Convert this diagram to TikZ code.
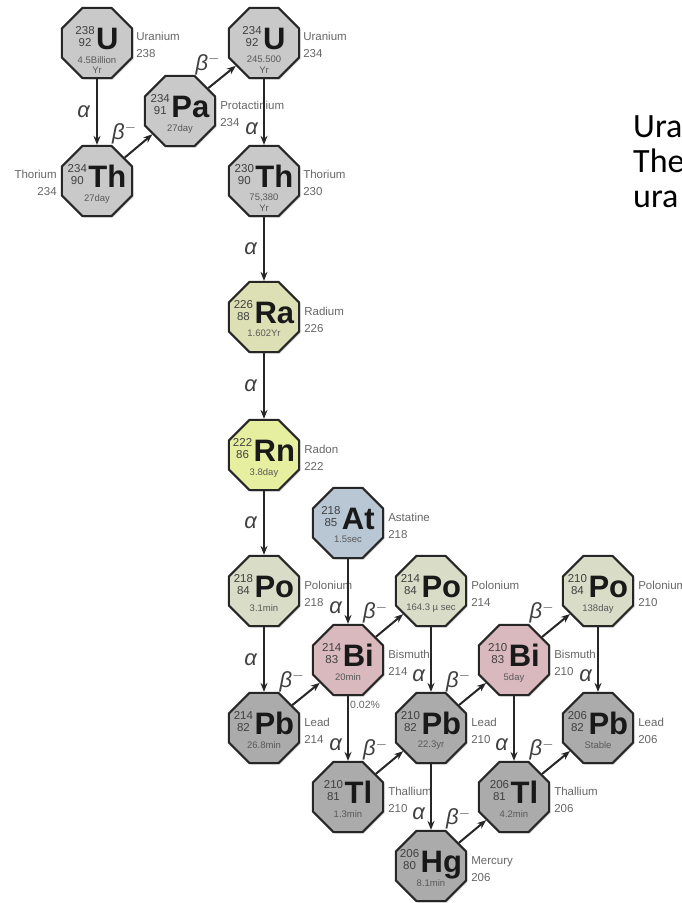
\documentclass[tikz,border=0pt]{standalone}
\usepackage{fontspec}
\setmainfont{Liberation Sans}
\newfontfamily\slidefont{Carlito}
\usetikzlibrary{arrows.meta,shapes.geometric,shadows}
\definecolor{nucgray}{HTML}{C9C9C9}
\definecolor{nucdark}{HTML}{ABABAB}
\definecolor{ragreen}{HTML}{DCE0B4}
\definecolor{rnyellow}{HTML}{E6EFA0}
\definecolor{atblue}{HTML}{B9C6D3}
\definecolor{popale}{HTML}{D9DCC6}
\definecolor{bipink}{HTML}{D9B9BE}

% octagon, mass/atomic number, symbol, half-life
\newcommand{\nuc}[6]{%
  \node[octa,fill=#2] (#1) at #3 {};
  \node[nucsym] (#1-s) at ([yshift=-6pt]#1.center)
    {\raisebox{8pt}{\fontsize{11.5}{11}\selectfont\mdseries\color{black!75}\begin{tabular}{@{}c@{}}#4\end{tabular}}\hspace{1.5pt}#5};
  \node[halflife] (#1-h) at ([yshift=-13pt]#1.center) {#6};
}

\begin{document}
\begin{tikzpicture}[x=1pt,y=-1pt,
  octa/.style={regular polygon,regular polygon sides=8,minimum size=76pt,inner sep=0pt,draw=black!85,line width=2pt,
    drop shadow={shadow xshift=1.5pt,shadow yshift=-1.5pt,opacity=0.3}},
  nucsym/.style={anchor=base,inner sep=0pt,font=\fontsize{31}{31}\selectfont\bfseries,text=black!90},
  halflife/.style={anchor=north,inner sep=0pt,align=center,font=\fontsize{9.5}{10.5}\selectfont,text=black!65},
  sidelbl/.style={anchor=west,align=left,inner sep=0pt,text=black!60,font=\fontsize{11.5}{17}\selectfont},
  decay/.style={-{Stealth[length=9pt,width=7pt]},line width=2pt,black!85},
  albl/.style={inner sep=2pt,text=black!75,font=\fontsize{22}{22}\selectfont\itshape},
  slide/.style={anchor=base west,inner sep=0pt,font=\slidefont\fontsize{34}{34}\selectfont}]
  \useasboundingbox (0,0) rectangle (682,903);

  % Nuclides
  \nuc{u238}{nucgray}{(97,43)}{238\\92}{U}{4.5Billion\\Yr}
  \nuc{th234}{nucgray}{(97,181)}{234\\90}{Th}{27day}
  \nuc{pa234}{nucgray}{(180,111)}{234\\91}{Pa}{27day}
  \nuc{u234}{nucgray}{(264,43)}{234\\92}{U}{245.500\\Yr}
  \nuc{th230}{nucgray}{(264,181)}{230\\90}{Th}{75,380\\Yr}
  \nuc{ra226}{ragreen}{(264,317)}{226\\88}{Ra}{1.602Yr}
  \nuc{rn222}{rnyellow}{(264,455)}{222\\86}{Rn}{3.8day}
  \nuc{at218}{atblue}{(348,523)}{218\\85}{At}{1.5sec}
  \nuc{po218}{popale}{(264,591)}{218\\84}{Po}{3.1min}
  \nuc{bi214}{bipink}{(348,660)}{214\\83}{Bi}{20min}
  \nuc{po214}{popale}{(431,591)}{214\\84}{Po}{164.3 µ sec}
  \nuc{pb214}{nucdark}{(264,728)}{214\\82}{Pb}{26.8min}
  \nuc{pb210}{nucdark}{(431,728)}{210\\82}{Pb}{22.3yr}
  \nuc{bi210}{bipink}{(514,660)}{210\\83}{Bi}{5day}
  \nuc{po210}{popale}{(598,591)}{210\\84}{Po}{138day}
  \nuc{pb206}{nucdark}{(598,728)}{206\\82}{Pb}{Stable}
  \nuc{tl210}{nucdark}{(348,797)}{210\\81}{Tl}{1.3min}
  \nuc{tl206}{nucdark}{(514,797)}{206\\81}{Tl}{4.2min}
  \nuc{hg206}{nucdark}{(431,866)}{206\\80}{Hg}{8.1min}

  % Names
  \node[sidelbl] (u238-l) at ([xshift=3pt,yshift=-1.5pt]u238.east) {Uranium\\238};
  \node[sidelbl,anchor=east,align=right] (th234-l) at ([xshift=-4pt,yshift=-1.5pt]th234.west) {Thorium\\234};
  \node[sidelbl] (pa234-l) at ([xshift=4pt,yshift=-3pt]pa234.east) {Protactinium\\234};
  \node[sidelbl] (u234-l) at ([xshift=3pt,yshift=-1.5pt]u234.east) {Uranium\\234};
  \node[sidelbl] (th230-l) at ([xshift=3pt,yshift=-1.5pt]th230.east) {Thorium\\230};
  \node[sidelbl] (ra226-l) at ([xshift=4pt,yshift=-3pt]ra226.east) {Radium\\226};
  \node[sidelbl] (rn222-l) at ([xshift=4pt,yshift=-3pt]rn222.east) {Radon\\222};
  \node[sidelbl] (at218-l) at ([xshift=4pt,yshift=-3pt]at218.east) {Astatine\\218};
  \node[sidelbl] (po218-l) at ([xshift=4pt,yshift=-3pt]po218.east) {Polonium\\218};
  \node[sidelbl] (bi214-l) at ([xshift=4pt,yshift=-3pt]bi214.east) {Bismuth\\214};
  \node[sidelbl] (po214-l) at ([xshift=4pt,yshift=-3pt]po214.east) {Polonium\\214};
  \node[sidelbl] (pb214-l) at ([xshift=4pt,yshift=-3pt]pb214.east) {Lead\\214};
  \node[sidelbl] (pb210-l) at ([xshift=4pt,yshift=-3pt]pb210.east) {Lead\\210};
  \node[sidelbl] (bi210-l) at ([xshift=4pt,yshift=-3pt]bi210.east) {Bismuth\\210};
  \node[sidelbl] (po210-l) at ([xshift=4pt,yshift=-3pt]po210.east) {Polonium\\210};
  \node[sidelbl] (pb206-l) at ([xshift=4pt,yshift=-3pt]pb206.east) {Lead\\206};
  \node[sidelbl] (tl210-l) at ([xshift=4pt,yshift=-3pt]tl210.east) {Thallium\\210};
  \node[sidelbl] (tl206-l) at ([xshift=4pt,yshift=-3pt]tl206.east) {Thallium\\206};
  \node[sidelbl] (hg206-l) at ([xshift=4pt,yshift=-3pt]hg206.east) {Mercury\\206};
  \node[sidelbl,font=\fontsize{10.5}{12}\selectfont] (pct) at ([xshift=2pt,yshift=-9pt]bi214.south) {0.02\%};

  % Alpha decays
  \draw[decay] (u238) -- node[albl,left=4pt] (a1) {α} (th234);
  \draw[decay] (u234) -- node[albl,left=3pt,pos=0.75] (a2) {α} (th230);
  \draw[decay] (th230) -- node[albl,left=4pt] (a3) {α} (ra226);
  \draw[decay] (ra226) -- node[albl,left=4pt] (a4) {α} (rn222);
  \draw[decay] (rn222) -- node[albl,left=4pt] (a5) {α} (po218);
  \draw[decay] (po218) -- node[albl,left=4pt] (a6) {α} (pb214);
  \draw[decay] (at218) -- node[albl,left=3pt,pos=0.75] (a7) {α} (bi214);
  \draw[decay] (bi214) -- node[albl,left=3pt,pos=0.75] (a8) {α} (tl210);
  \draw[decay] (po214) -- node[albl,left=3pt,pos=0.75] (a9) {α} (pb210);
  \draw[decay] (pb210) -- node[albl,left=3pt,pos=0.75] (a10) {α} (hg206);
  \draw[decay] (bi210) -- node[albl,left=3pt,pos=0.75] (a11) {α} (tl206);
  \draw[decay] (po210) -- node[albl,left=3pt,pos=0.75] (a12) {α} (pb206);

  % Beta decays
  \draw[decay] (th234) -- node[albl,above left=-1pt] (b1) {β$^-$} (pa234);
  \draw[decay] (pa234) -- node[albl,above left=-1pt] (b2) {β$^-$} (u234);
  \draw[decay] (pb214) -- node[albl,above left=-1pt] (b3) {β$^-$} (bi214);
  \draw[decay] (bi214) -- node[albl,above left=-1pt] (b4) {β$^-$} (po214);
  \draw[decay] (tl210) -- node[albl,above left=-1pt] (b5) {β$^-$} (pb210);
  \draw[decay] (pb210) -- node[albl,above left=-1pt] (b6) {β$^-$} (bi210);
  \draw[decay] (hg206) -- node[albl,above left=-1pt] (b7) {β$^-$} (tl206);
  \draw[decay] (bi210) -- node[albl,above left=-1pt] (b8) {β$^-$} (po210);
  \draw[decay] (tl206) -- node[albl,above left=-1pt] (b9) {β$^-$} (pb206);

  % Slide text, cut at the edge
  \node[slide] (t1) at (633,137) {Ura};
  \node[slide] (t2) at (633,172) {The};
  \node[slide] (t3) at (633,207) {ura};
\end{tikzpicture}
\end{document}
